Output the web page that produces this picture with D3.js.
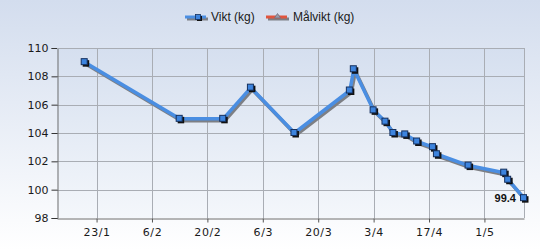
<!DOCTYPE html>
<html>
<head>
<meta charset="utf-8">
<script src="https://cdn.jsdelivr.net/npm/d3@7"></script>
<style>
  html, body { margin: 0; padding: 0; }
  body { width: 540px; height: 250px; overflow: hidden; }
</style>
</head>
<body>
<svg id="svg"></svg>
<script>
// data
const dates = ["2023-01-20", "2023-02-13", "2023-02-24", "2023-03-03", "2023-03-14",
  "2023-03-28", "2023-03-29", "2023-04-03", "2023-04-06", "2023-04-08", "2023-04-11",
  "2023-04-14", "2023-04-18", "2023-04-19", "2023-04-27", "2023-05-06", "2023-05-07",
  "2023-05-11"]
const weights = [109.0, 105.0, 105.0, 107.2, 104.0, 107.0, 108.5, 105.6, 104.8, 104.0,
  103.9, 103.4, 103.0, 102.5, 101.7, 101.2, 100.7, 99.4]
const targetWeights = []
const seriesNames = ["Vikt (kg)", "Målvikt (kg)"]
const xTickDates = ["2023-01-23", "2023-02-06", "2023-02-20", "2023-03-06", "2023-03-20",
  "2023-04-03", "2023-04-17", "2023-05-01"]
const yTicks = [98, 100, 102, 104, 106, 108, 110]
const xStart = "2023-01-13"
const lastLabel = "99.4"

const width = 540, height = 250
const margin = {top: 48, right: 16, bottom: 32, left: 57}
const parse = d3.utcParse("%Y-%m-%d")
const fmt = d3.utcFormat("%-d/%-m")

const data = dates.map((d, i) => ({date: parse(d), value: weights[i]}))

const x = d3.scaleUtc()
  .domain([parse(xStart), data[data.length - 1].date])
  .range([margin.left, width - margin.right])
const y = d3.scaleLinear()
  .domain([98, 110])
  .range([height - margin.bottom, margin.top])

const svg = d3.select("#svg")
  .attr("width", width).attr("height", height)
  .attr("viewBox", [0, 0, width, height])

const defs = svg.append("defs")
const bg = defs.append("linearGradient").attr("id", "bg")
  .attr("x1", 0).attr("y1", 0).attr("x2", 0).attr("y2", 1)
bg.append("stop").attr("offset", 0).attr("stop-color", "#d3ddee")
bg.append("stop").attr("offset", 1).attr("stop-color", "#ffffff")
const pg = defs.append("linearGradient").attr("id", "pg")
  .attr("x1", 0).attr("y1", 0).attr("x2", 0).attr("y2", 1)
pg.append("stop").attr("offset", 0).attr("stop-color", "#d5dfef")
pg.append("stop").attr("offset", 1).attr("stop-color", "#f4f7fb")

svg.append("rect").attr("width", width).attr("height", height).attr("fill", "url(#bg)")
svg.append("rect")
  .attr("x", margin.left).attr("y", margin.top)
  .attr("width", width - margin.left - margin.right)
  .attr("height", height - margin.top - margin.bottom)
  .attr("fill", "url(#pg)")

// grid
svg.append("g")
  .selectAll("line").data(yTicks.slice(1)).join("line")
  .attr("x1", margin.left).attr("x2", width - margin.right)
  .attr("y1", d => Math.round(y(d)) + 0.5).attr("y2", d => Math.round(y(d)) + 0.5)
  .attr("stroke", "#a9adb4")
svg.append("g")
  .selectAll("line").data(xTickDates.map(parse)).join("line")
  .attr("x1", d => Math.round(x(d)) + 0.5).attr("x2", d => Math.round(x(d)) + 0.5)
  .attr("y1", margin.top).attr("y2", height - margin.bottom)
  .attr("stroke", "#a9adb4")
// right border
svg.append("line")
  .attr("x1", width - margin.right + 0.5).attr("x2", width - margin.right + 0.5)
  .attr("y1", margin.top).attr("y2", height - margin.bottom)
  .attr("stroke", "#a9adb4")

// axes
const yAxis = g => g
  .attr("transform", `translate(${margin.left + 0.5},0)`)
  .call(d3.axisLeft(y).tickValues(yTicks).tickSize(6).tickPadding(3))
  .call(g => g.selectAll(".domain").attr("stroke", "#6e6e6e"))
  .call(g => g.selectAll(".tick line").attr("stroke", "#333"))
  .call(g => g.selectAll("text").attr("fill", "#1a1a1a")
    .style("font", "11px 'DejaVu Sans'"))
const xAxis = g => g
  .attr("transform", `translate(0,${height - margin.bottom + 0.5})`)
  .call(d3.axisBottom(x).tickValues(xTickDates.map(parse)).tickFormat(fmt)
    .tickSize(4).tickPadding(6).tickSizeOuter(0))
  .call(g => g.selectAll(".domain").attr("stroke", "#6e6e6e"))
  .call(g => g.selectAll(".tick line").attr("stroke", "#555"))
  .call(g => g.selectAll("text").attr("fill", "#1a1a1a")
    .style("font", "11px 'DejaVu Sans'").attr("letter-spacing", "0.6px"))
svg.append("g").call(yAxis)
svg.append("g").call(xAxis)

// top border line
svg.append("line")
  .attr("x1", margin.left).attr("x2", width - margin.right)
  .attr("y1", margin.top + 0.5).attr("y2", margin.top + 0.5)
  .attr("stroke", "#a9adb4")

const line = d3.line().x(d => x(d.date)).y(d => y(d.value))

// shadow then line
svg.append("path").datum(data)
  .attr("d", line).attr("transform", "translate(1.5,2)")
  .attr("fill", "none").attr("stroke", "#7d7f84").attr("stroke-width", 3.5)
  .attr("stroke-linejoin", "round")
svg.append("path").datum(data)
  .attr("d", line)
  .attr("fill", "none").attr("stroke", "#4a8ee2").attr("stroke-width", 3.5)
  .attr("stroke-linejoin", "round")

const ms = 7
svg.append("g").selectAll("rect").data(data).join("rect")
  .attr("x", d => x(d.date) - ms / 2 + 1.5).attr("y", d => y(d.value) - ms / 2 + 1.5)
  .attr("width", ms - 0.5).attr("height", ms - 0.5).attr("fill", "#111")
svg.append("g").selectAll("rect").data(data).join("rect")
  .attr("x", d => x(d.date) - ms / 2).attr("y", d => y(d.value) - ms / 2)
  .attr("width", ms - 1).attr("height", ms - 1)
  .attr("fill", "#3d84de").attr("stroke", "#15305e").attr("stroke-width", 1)

const last = data[data.length - 1]
svg.append("text")
  .attr("x", x(last.date) - 8).attr("y", y(last.value))
  .attr("dy", "0.35em").attr("text-anchor", "end")
  .attr("fill", "#111").style("font", "bold 11px 'Liberation Sans'")
  .text(lastLabel)

// legend
const legend = svg.append("g").attr("transform", "translate(0,17)")
const items = [
  {name: seriesNames[0], x0: 185, tx: 211, color: "#4a8ee2", marker: "square"},
  {name: seriesNames[1], x0: 266, tx: 293, color: "#e0553e", marker: "tri"}
]
items.forEach(it => {
  const g = legend.append("g").attr("transform", `translate(${it.x0},0)`)
  g.append("line").attr("x1", 2).attr("x2", 23).attr("y1", 2).attr("y2", 2)
    .attr("stroke", "#7d7f84").attr("stroke-width", 3)
  g.append("line").attr("x1", 0).attr("x2", 21).attr("y1", 0).attr("y2", 0)
    .attr("stroke", it.color).attr("stroke-width", 3)
  if (it.marker === "square") {
    g.append("rect").attr("x", 12).attr("y", -1).attr("width", 5).attr("height", 5).attr("fill", "#111")
    g.append("rect").attr("x", 10.5).attr("y", -2.5).attr("width", 5).attr("height", 5)
      .attr("fill", "#3d84de").attr("stroke", "#15305e").attr("stroke-width", 0.8)
  } else {
    g.append("path").attr("d", "M11.5,-3.5 L14.5,1 L8.5,1 Z")
      .attr("fill", "#9a9aa8").attr("stroke", "#707080").attr("stroke-width", 0.8)
  }
  g.append("text").attr("x", it.tx - it.x0).attr("y", 0).attr("dy", "0.35em")
    .attr("fill", "#1a1a1a").style("font", "12px 'Liberation Sans'")
    .text(it.name)
})
</script>
</body>
</html>
